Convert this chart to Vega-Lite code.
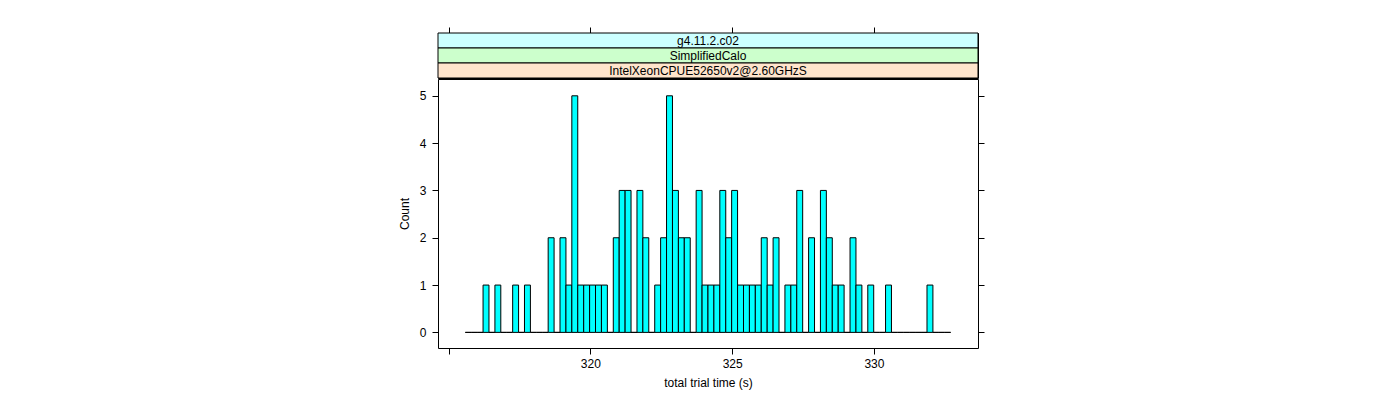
{
  "$schema": "https://vega.github.io/schema/vega-lite/v6.json",
  "padding": {"left": 397, "top": 26, "right": 5, "bottom": 5},
  "spacing": -2,
  "config": {
    "view": {"stroke": "#000000", "strokeWidth": 1},
    "font": "Liberation Sans",
    "axis": {"grid": false, "domain": false, "tickColor": "#000000", "labelColor": "#000000", "titleColor": "#000000", "labelFontSize": 12, "titleFontSize": 12, "titleFontWeight": "normal", "tickSize": 6, "labelFont": "Liberation Sans", "titleFont": "Liberation Sans"}
  },
  "vconcat": [
    {
      "width": 540,
      "height": 45,
      "data": {"values": [
        {"label": "g4.11.2.c02"},
        {"label": "SimplifiedCalo"},
        {"label": "IntelXeonCPUE52650v2@2.60GHzS"}
      ]},
      "layer": [
        {
          "mark": {"type": "rect", "stroke": "#000000", "strokeWidth": 1},
          "encoding": {
            "y": {"field": "label", "type": "nominal", "sort": ["g4.11.2.c02", "SimplifiedCalo", "IntelXeonCPUE52650v2@2.60GHzS"], "axis": null, "scale": {"paddingInner": 0, "paddingOuter": 0}},
            "fill": {"field": "label", "type": "nominal", "scale": {"domain": ["g4.11.2.c02", "SimplifiedCalo", "IntelXeonCPUE52650v2@2.60GHzS"], "range": ["#CCFFFF", "#CCFFCC", "#FFE5CC"]}, "legend": null}
          }
        },
        {
          "mark": {"type": "text", "fontSize": 12, "fill": "#000000"},
          "encoding": {
            "y": {"field": "label", "type": "nominal", "sort": ["g4.11.2.c02", "SimplifiedCalo", "IntelXeonCPUE52650v2@2.60GHzS"], "axis": null},
            "x": {"datum": 324.148, "type": "quantitative", "scale": {"domain": [314.626, 333.67], "nice": false, "zero": false}, "axis": {"orient": "top", "values": [315, 320, 325, 330], "labels": false, "title": null}},
            "text": {"field": "label", "type": "nominal"}
          }
        }
      ]
    },
    {
      "width": 540,
      "height": 269,
      "data": {"values": [
        {"lo": 315.589, "hi": 315.798, "n": 0},
        {"lo": 315.798, "hi": 316.006, "n": 0},
        {"lo": 316.006, "hi": 316.215, "n": 0},
        {"lo": 316.215, "hi": 316.424, "n": 1},
        {"lo": 316.424, "hi": 316.633, "n": 0},
        {"lo": 316.633, "hi": 316.841, "n": 1},
        {"lo": 316.841, "hi": 317.050, "n": 0},
        {"lo": 317.050, "hi": 317.259, "n": 0},
        {"lo": 317.259, "hi": 317.468, "n": 1},
        {"lo": 317.468, "hi": 317.676, "n": 0},
        {"lo": 317.676, "hi": 317.885, "n": 1},
        {"lo": 317.885, "hi": 318.094, "n": 0},
        {"lo": 318.094, "hi": 318.303, "n": 0},
        {"lo": 318.303, "hi": 318.511, "n": 0},
        {"lo": 318.511, "hi": 318.720, "n": 2},
        {"lo": 318.720, "hi": 318.929, "n": 0},
        {"lo": 318.929, "hi": 319.138, "n": 2},
        {"lo": 319.138, "hi": 319.346, "n": 1},
        {"lo": 319.346, "hi": 319.555, "n": 5},
        {"lo": 319.555, "hi": 319.764, "n": 1},
        {"lo": 319.764, "hi": 319.973, "n": 1},
        {"lo": 319.973, "hi": 320.181, "n": 1},
        {"lo": 320.181, "hi": 320.390, "n": 1},
        {"lo": 320.390, "hi": 320.599, "n": 1},
        {"lo": 320.599, "hi": 320.808, "n": 0},
        {"lo": 320.808, "hi": 321.016, "n": 2},
        {"lo": 321.016, "hi": 321.225, "n": 3},
        {"lo": 321.225, "hi": 321.434, "n": 3},
        {"lo": 321.434, "hi": 321.643, "n": 0},
        {"lo": 321.643, "hi": 321.851, "n": 3},
        {"lo": 321.851, "hi": 322.060, "n": 2},
        {"lo": 322.060, "hi": 322.269, "n": 0},
        {"lo": 322.269, "hi": 322.477, "n": 1},
        {"lo": 322.477, "hi": 322.686, "n": 2},
        {"lo": 322.686, "hi": 322.895, "n": 5},
        {"lo": 322.895, "hi": 323.104, "n": 3},
        {"lo": 323.104, "hi": 323.312, "n": 2},
        {"lo": 323.312, "hi": 323.521, "n": 2},
        {"lo": 323.521, "hi": 323.730, "n": 0},
        {"lo": 323.730, "hi": 323.939, "n": 3},
        {"lo": 323.939, "hi": 324.147, "n": 1},
        {"lo": 324.147, "hi": 324.356, "n": 1},
        {"lo": 324.356, "hi": 324.565, "n": 1},
        {"lo": 324.565, "hi": 324.774, "n": 3},
        {"lo": 324.774, "hi": 324.982, "n": 2},
        {"lo": 324.982, "hi": 325.191, "n": 3},
        {"lo": 325.191, "hi": 325.400, "n": 1},
        {"lo": 325.400, "hi": 325.609, "n": 1},
        {"lo": 325.609, "hi": 325.817, "n": 1},
        {"lo": 325.817, "hi": 326.026, "n": 1},
        {"lo": 326.026, "hi": 326.235, "n": 2},
        {"lo": 326.235, "hi": 326.444, "n": 1},
        {"lo": 326.444, "hi": 326.652, "n": 2},
        {"lo": 326.652, "hi": 326.861, "n": 0},
        {"lo": 326.861, "hi": 327.070, "n": 1},
        {"lo": 327.070, "hi": 327.278, "n": 1},
        {"lo": 327.278, "hi": 327.487, "n": 3},
        {"lo": 327.487, "hi": 327.696, "n": 0},
        {"lo": 327.696, "hi": 327.905, "n": 2},
        {"lo": 327.905, "hi": 328.113, "n": 0},
        {"lo": 328.113, "hi": 328.322, "n": 3},
        {"lo": 328.322, "hi": 328.531, "n": 2},
        {"lo": 328.531, "hi": 328.740, "n": 1},
        {"lo": 328.740, "hi": 328.948, "n": 1},
        {"lo": 328.948, "hi": 329.157, "n": 0},
        {"lo": 329.157, "hi": 329.366, "n": 2},
        {"lo": 329.366, "hi": 329.575, "n": 1},
        {"lo": 329.575, "hi": 329.783, "n": 0},
        {"lo": 329.783, "hi": 329.992, "n": 1},
        {"lo": 329.992, "hi": 330.201, "n": 0},
        {"lo": 330.201, "hi": 330.410, "n": 0},
        {"lo": 330.410, "hi": 330.618, "n": 1},
        {"lo": 330.618, "hi": 330.827, "n": 0},
        {"lo": 330.827, "hi": 331.036, "n": 0},
        {"lo": 331.036, "hi": 331.245, "n": 0},
        {"lo": 331.245, "hi": 331.453, "n": 0},
        {"lo": 331.453, "hi": 331.662, "n": 0},
        {"lo": 331.662, "hi": 331.871, "n": 0},
        {"lo": 331.871, "hi": 332.080, "n": 1},
        {"lo": 332.080, "hi": 332.288, "n": 0},
        {"lo": 332.288, "hi": 332.497, "n": 0},
        {"lo": 332.497, "hi": 332.706, "n": 0}
      ]},
      "layer": [
        {
          "mark": {"type": "rect", "fill": "#00FFFF", "stroke": "#000000", "strokeWidth": 1},
          "encoding": {
            "x": {"field": "lo", "type": "quantitative", "scale": {"domain": [314.626, 333.67], "nice": false, "zero": false}, "axis": {"values": [315, 320, 325, 330], "labelExpr": "datum.value == 315 ? '' : datum.label", "title": "total trial time (s)", "labelPadding": 4, "titlePadding": 8}},
            "x2": {"field": "hi"},
            "y": {"field": "n", "type": "quantitative", "scale": {"domain": [-0.33, 5.355], "nice": false, "zero": false}, "axis": {"values": [0, 1, 2, 3, 4, 5], "title": "Count", "labelPadding": 6, "titlePadding": 8}},
            "y2": {"datum": 0}
          }
        },
        {
          "mark": {"type": "rect", "opacity": 0},
          "encoding": {
            "x": {"field": "lo", "type": "quantitative"},
            "x2": {"field": "hi"},
            "y": {"field": "n", "type": "quantitative", "axis": {"orient": "right", "values": [0, 1, 2, 3, 4, 5], "labels": false, "title": null}},
            "y2": {"datum": 0}
          }
        }
      ],
      "resolve": {"axis": {"y": "independent"}}
    }
  ]
}
